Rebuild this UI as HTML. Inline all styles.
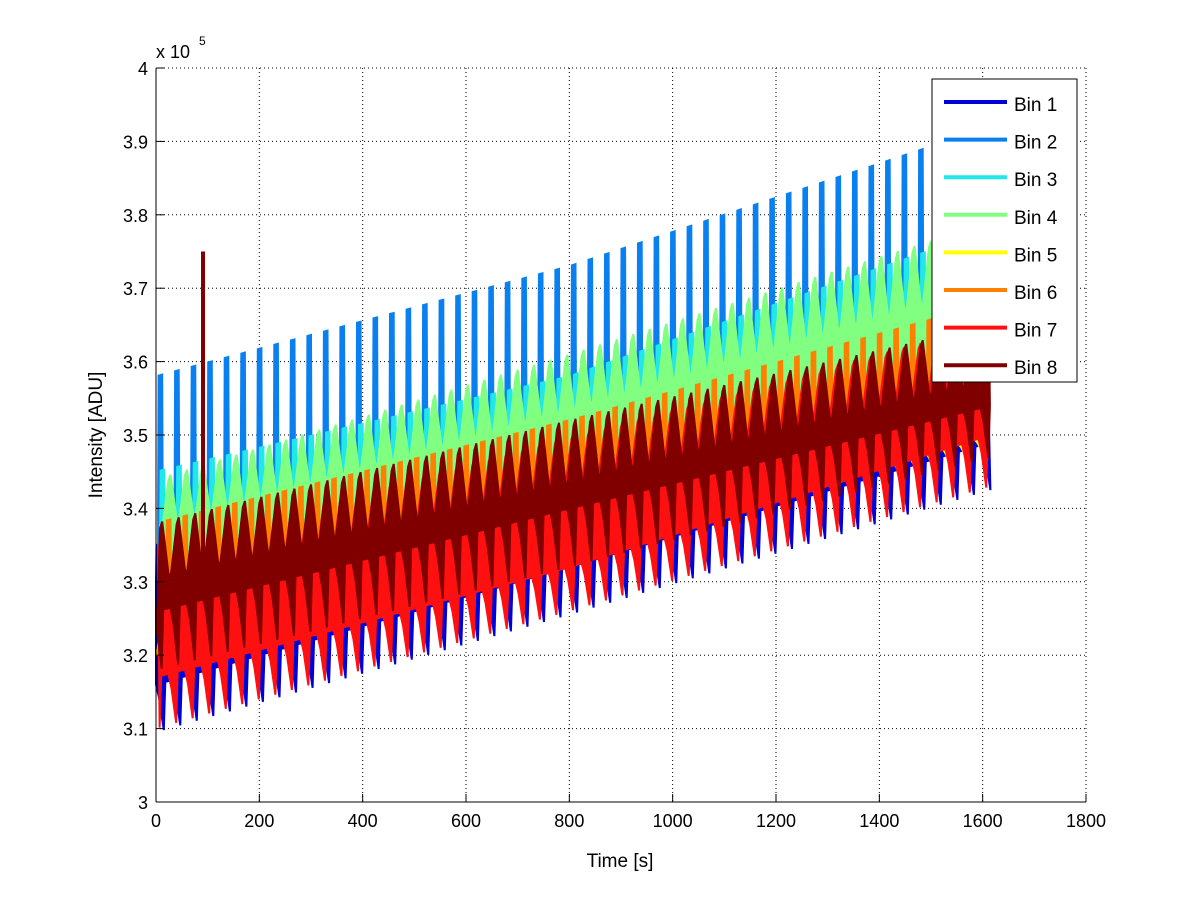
<!DOCTYPE html>
<html><head><meta charset="utf-8"><style>
html,body{margin:0;padding:0;background:#fff;}
svg{display:block;font-family:"Liberation Sans",sans-serif;}
</style></head><body>
<svg id="chart" width="1200" height="901" viewBox="0 0 1200 901" xmlns="http://www.w3.org/2000/svg">
<rect x="0" y="0" width="1200" height="901" fill="#fff"/>
<g id="grid"></g>
<g id="series"></g>
<g id="axes"></g>
<g id="legend"></g>
</svg>
<script>
const xTicks = [0,200,400,600,800,1000,1200,1400,1600,1800];
const yTicks = [3,3.1,3.2,3.3,3.4,3.5,3.6,3.7,3.8,3.9,4];
const yTickLabels = ["3","3.1","3.2","3.3","3.4","3.5","3.6","3.7","3.8","3.9","4"];
const binNames = ["Bin 1","Bin 2","Bin 3","Bin 4","Bin 5","Bin 6","Bin 7","Bin 8"];
const binColors = ["#0000d8","#0a80f0","#20e8e8","#80ff80","#ffff00","#ff8000","#ff1010","#800000"];
const checkTimes = [0,800,1615];
// envelope values (x1e5 ADU) at check times: upper peak, upper base, lower base, lower trough
const bin1Peak=[3.35,3.51,3.66], bin1Base=[3.30,3.46,3.62], bin1LowBase=[3.16,3.32,3.49], bin1Trough=[3.095,3.255,3.425];
const bin2Peak=[3.58,3.73,3.92], bin2Base=[3.40,3.53,3.68], bin2LowBase=[3.30,3.45,3.60], bin2Trough=[3.28,3.43,3.58];
const bin3Peak=[3.45,3.58,3.78], bin3Base=[3.36,3.50,3.66], bin3LowBase=[3.28,3.42,3.58], bin3Trough=[3.27,3.41,3.57];
const bin4Peak=[3.44,3.61,3.79], bin4Base=[3.37,3.53,3.70], bin4LowBase=[3.28,3.42,3.56], bin4Trough=[3.27,3.41,3.55];
const bin5Peak=[3.34,3.48,3.62], bin5Base=[3.28,3.42,3.56], bin5LowBase=[3.20,3.35,3.50], bin5Trough=[3.18,3.33,3.48];
const bin6Peak=[3.38,3.52,3.68], bin6Base=[3.28,3.42,3.56], bin6LowBase=[3.22,3.36,3.52], bin6Trough=[3.20,3.34,3.50];
const bin7Peak=[3.35,3.50,3.65], bin7Base=[3.28,3.43,3.58], bin7LowBase=[3.17,3.32,3.50], bin7Trough=[3.10,3.26,3.43];
const bin8Peak=[3.38,3.52,3.65], bin8Base=[3.30,3.43,3.57], bin8LowBase=[3.26,3.40,3.54], bin8Trough=[3.18,3.32,3.47];
const spikeTime = 91, spikeValue = 3.75;
const period = 32;
const endTime = 1615;
const peaks=[bin1Peak,bin2Peak,bin3Peak,bin4Peak,bin5Peak,bin6Peak,bin7Peak,bin8Peak];
const bases=[bin1Base,bin2Base,bin3Base,bin4Base,bin5Base,bin6Base,bin7Base,bin8Base];
const lowBases=[bin1LowBase,bin2LowBase,bin3LowBase,bin4LowBase,bin5LowBase,bin6LowBase,bin7LowBase,bin8LowBase];
const troughs=[bin1Trough,bin2Trough,bin3Trough,bin4Trough,bin5Trough,bin6Trough,bin7Trough,bin8Trough];

const NS="http://www.w3.org/2000/svg";
const L=156,R=1086,T=68,B=802;
const xS=t=>L+(t-0)/(1800-0)*(R-L);
const yS=v=>B-(v-3)/(4-3)*(B-T);
function mk(tag,attrs,parent){const e=document.createElementNS(NS,tag);for(const k in attrs)e.setAttribute(k,attrs[k]);parent.appendChild(e);return e;}
function at(arr,t){for(let i=0;i<checkTimes.length-1;i++){if(t<=checkTimes[i+1]){const f=(t-checkTimes[i])/(checkTimes[i+1]-checkTimes[i]);return arr[i]+(arr[i+1]-arr[i])*f;}}return arr[arr.length-1];}

const grid=document.getElementById('grid');
xTicks.forEach((t,i)=>{if(i===0)return;const g=mk('line',{x1:xS(t),x2:xS(t),y1:T,y2:B,stroke:'#000','stroke-width':1,'stroke-dasharray':'1,3'},grid);});
yTicks.forEach((v,i)=>{if(i===0)return;const g=mk('line',{x1:L,x2:R,y1:yS(v),y2:yS(v),stroke:'#000','stroke-width':1,'stroke-dasharray':'1,3'},grid);});

const sg=document.getElementById('series');
// upper edge shapes: spike (narrow bar) vs triangular sawtooth
const spikeT=[0,1,8,9,32], spikeF=[0,1,1,0,0];
const triT=[0,12,16,28,32], triF=[0,0.9,1,0.1,0];
const loT=[0,6,15,18,32], loF=[0,0.3,1,0,0];
const triBins=[false,false,false,true,false,false,true,true];
binNames.forEach((nm,b)=>{
  const off=(b*4)%period;
  const uT=triBins[b]?triT:spikeT, uF=triBins[b]?triF:spikeF;
  const up=[],lo=[];
  for(let c=-1;c*period+off<endTime;c++){
    const t0=c*period+off;
    uT.forEach((st,k)=>{const t=t0+st;if(t<0||t>endTime)return;const pk=at(peaks[b],t),bs=at(bases[b],t);up.push([xS(t),yS(bs+(pk-bs)*uF[k])]);});
    loT.forEach((st,k)=>{const t=t0+st;if(t<0||t>endTime)return;const lb=at(lowBases[b],t),tr=at(troughs[b],t);lo.push([xS(t),yS(lb-(lb-tr)*loF[k])]);});
  }
  const pts=up.concat(lo.reverse()).map(p=>p[0].toFixed(1)+','+p[1].toFixed(1)).join(' ');
  const p=mk('polygon',{points:pts,fill:binColors[b],stroke:binColors[b],'stroke-width':2,'stroke-linejoin':'miter'},sg);
  
  
});
const sp=mk('line',{x1:xS(spikeTime),x2:xS(spikeTime),y1:yS(at(bin8Base,spikeTime)),y2:yS(spikeValue),stroke:binColors[7],'stroke-width':4},sg);



const ax=document.getElementById('axes');
mk('line',{x1:L,x2:L,y1:T,y2:B,stroke:'#000','stroke-width':1},ax);
mk('line',{x1:L,x2:R,y1:B,y2:B,stroke:'#000','stroke-width':1},ax);
xTicks.forEach((t,i)=>{
  mk('line',{x1:xS(t),x2:xS(t),y1:B,y2:B-8,stroke:'#000'},ax);
  const tx=mk('text',{x:xS(t),y:B+25,'text-anchor':'middle','font-size':18},ax);tx.textContent=t;
  
  
});
yTicks.forEach((v,i)=>{
  mk('line',{x1:L,x2:L+8,y1:yS(v),y2:yS(v),stroke:'#000'},ax);
  const tx=mk('text',{x:L-8,y:yS(v)+7,'text-anchor':'end','font-size':18},ax);tx.textContent=yTickLabels[i];
  
  
});
const xl=mk('text',{x:620,y:867,'text-anchor':'middle','font-size':19},ax);xl.textContent='Time [s]';


const yl=mk('text',{x:0,y:0,'text-anchor':'middle','font-size':19,transform:'translate(102,435) rotate(-90)'},ax);yl.textContent='Intensity [ADU]';


const ex=mk('text',{x:156,y:58,'font-size':18},ax);ex.textContent='x 10';


const ex2=mk('text',{x:199,y:45,'font-size':12},ax);ex2.textContent='5';



const lg=document.getElementById('legend');
mk('rect',{x:932,y:79,width:145,height:303,fill:'#fff',stroke:'#000','stroke-width':1},lg);
binNames.forEach((nm,b)=>{
  const y=104+b*37.6;
  const g=mk('g',{},lg);
  
  
  mk('line',{x1:944,x2:1007,y1:y-2,y2:y-2,stroke:binColors[b],'stroke-width':4},g);
  const t=mk('text',{x:1014,y:y+7,'font-size':19},g);t.textContent=nm;
});
</script>
</body></html>
